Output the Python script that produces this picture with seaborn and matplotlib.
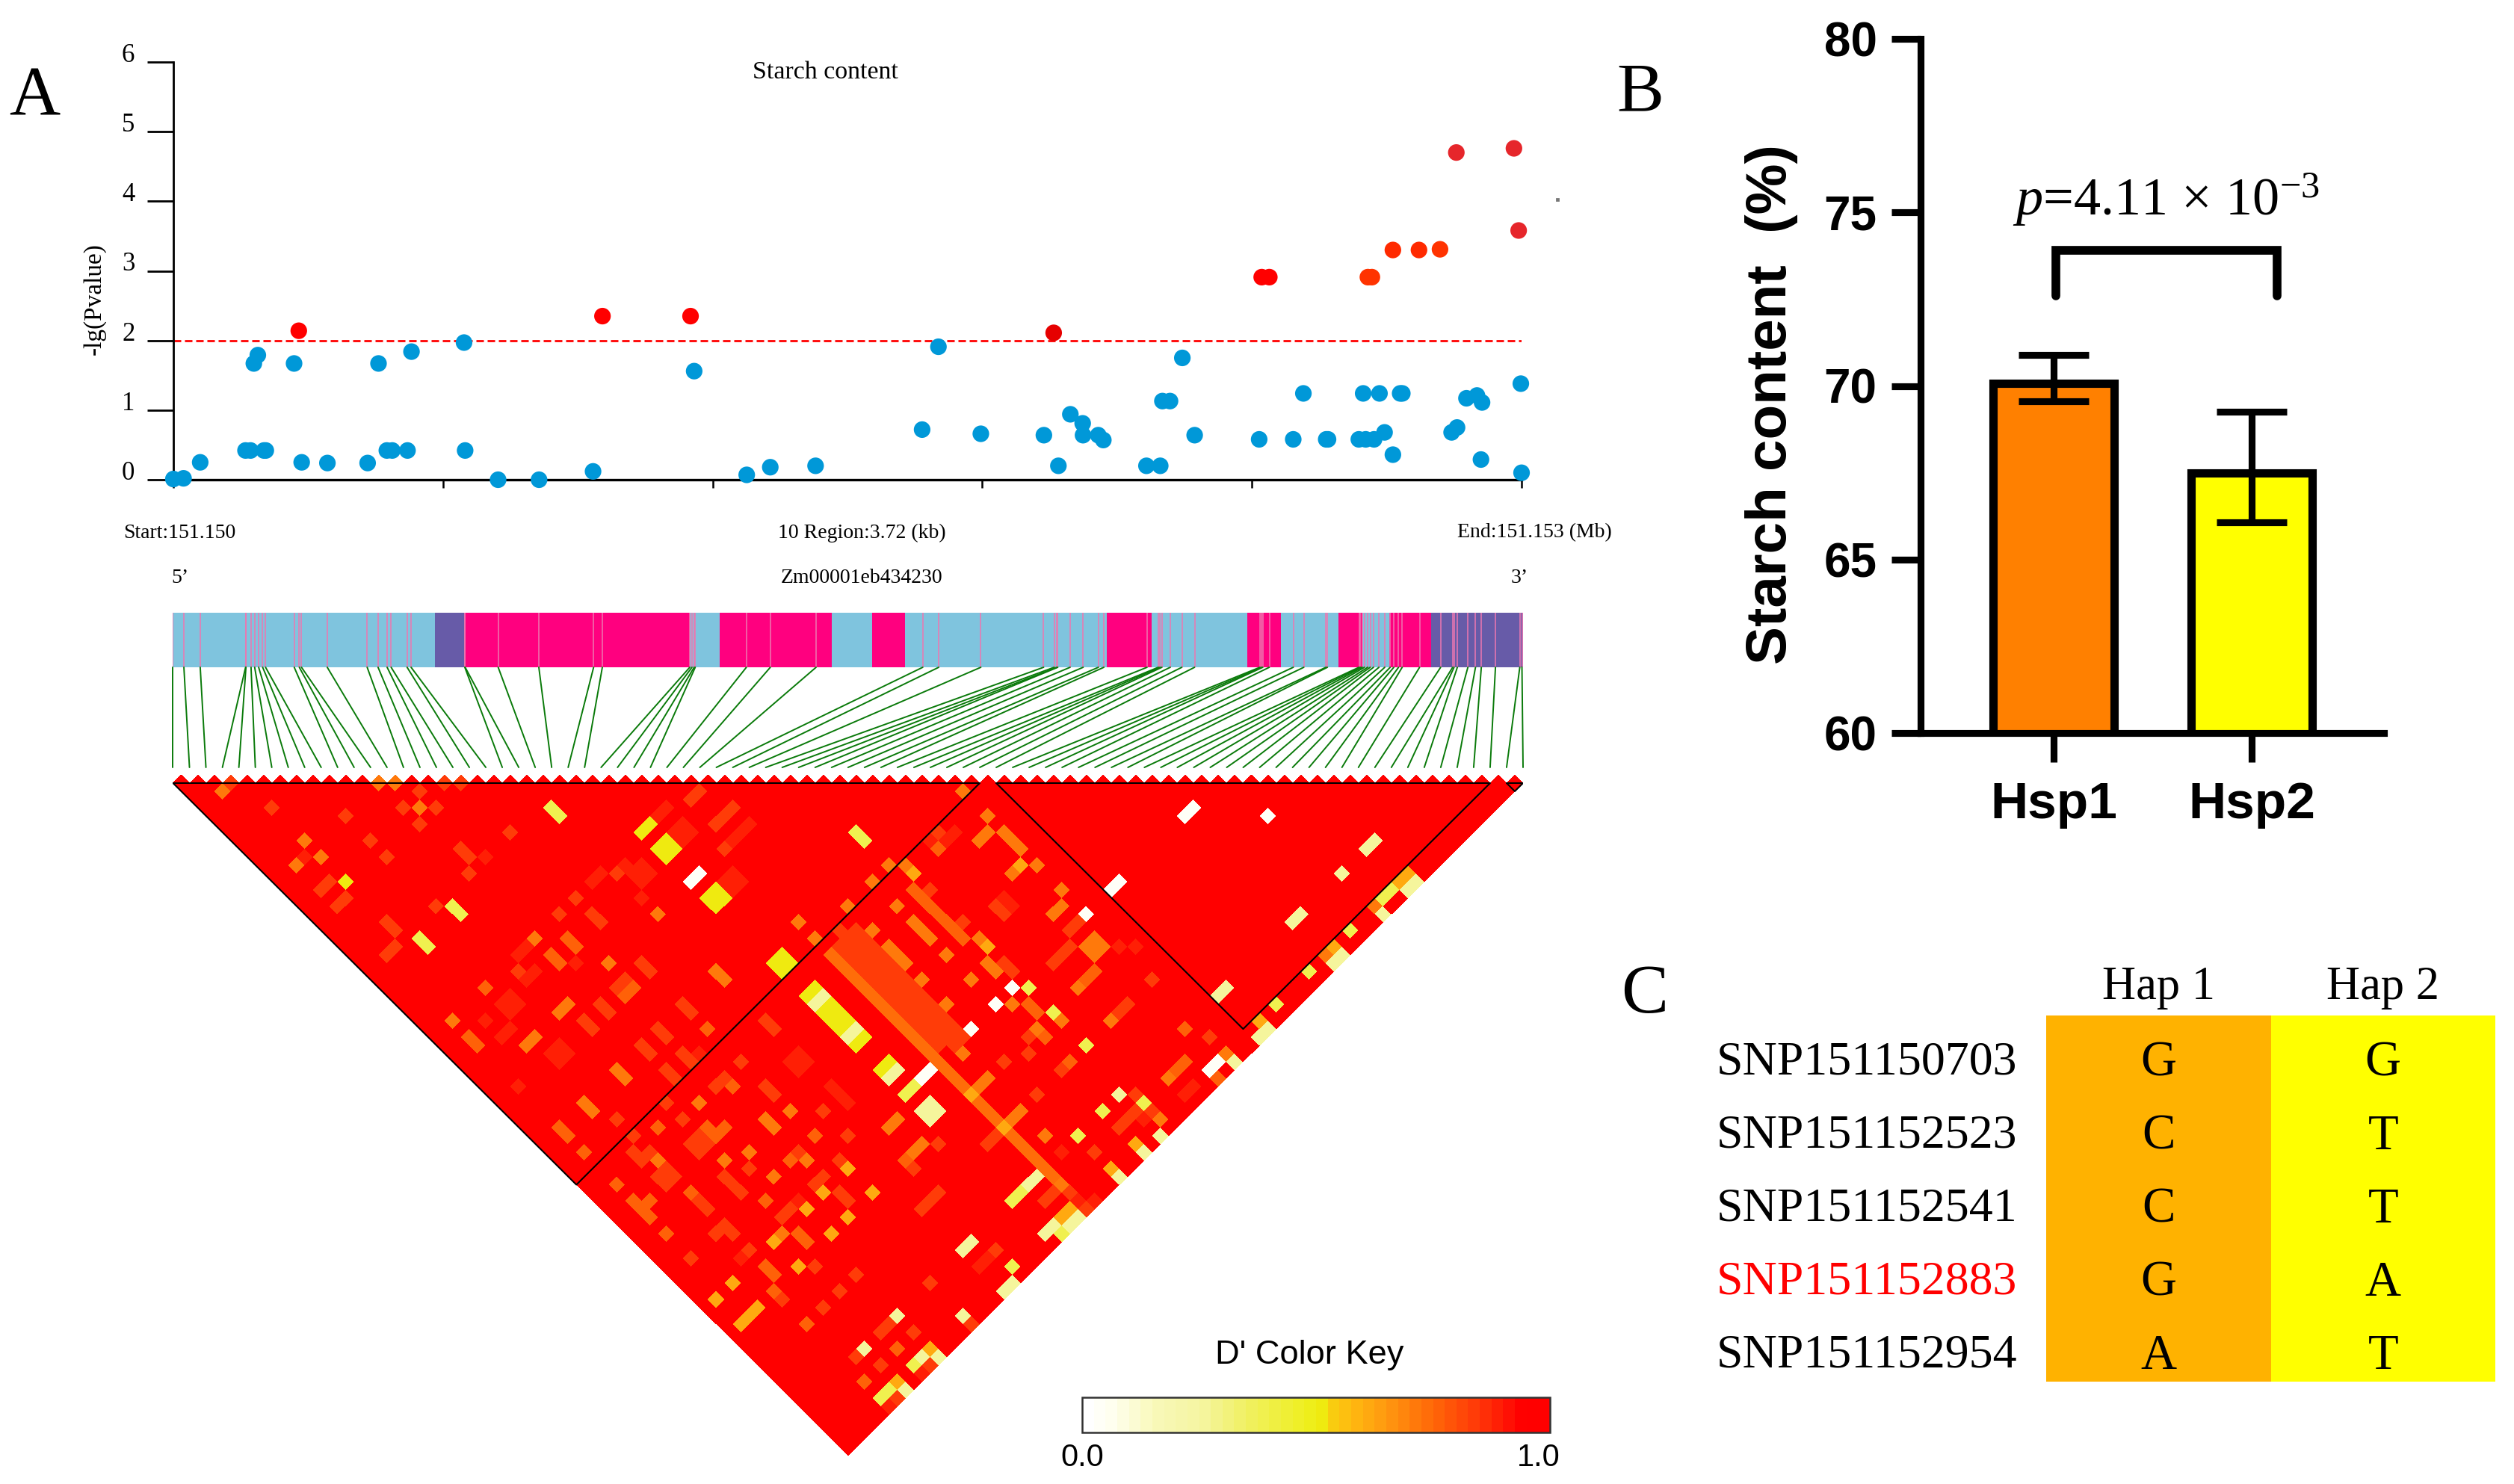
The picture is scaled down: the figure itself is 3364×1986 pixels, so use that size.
import matplotlib
matplotlib.use('Agg')
import matplotlib.pyplot as plt
import numpy as np
import pandas as pd
import seaborn as sns
from matplotlib.colors import LinearSegmentedColormap, ListedColormap
from matplotlib.transforms import Affine2D, ScaledTranslation

W, H = 3364, 1986
SERIF = ['Liberation Serif', 'DejaVu Sans']
SANS = ['Liberation Sans', 'DejaVu Sans']

# panel A, manhattan part: position in bp from 151.150 Mb, -lg(P)
blue_pos = [0, 28, 74, 199, 213, 250, 255, 222, 233, 333, 354, 425, 536, 566, 657, 589, 604, 646, 802, 805,
            896, 1009, 1158, 1437, 1582, 1647, 1772, 2066, 2111, 2228, 2402, 2442, 2475, 2509, 2510, 2552,
            2566, 2685, 2723, 2729, 2750, 2784, 2818, 2996, 3090, 3118, 3181, 3186, 3271, 3290, 3313, 3342,
            3283, 3328, 3365, 3385, 3391, 3527, 3542, 3568, 3597, 3611, 3608, 3718, 3720]
blue_logp = [0.01, 0.02, 0.25, 0.42, 0.42, 0.42, 0.42, 1.67, 1.79, 1.67, 0.25, 0.24, 0.24, 1.67, 1.84, 0.42,
             0.42, 0.42, 1.97, 0.42, 0.0, 0.0, 0.12, 1.56, 0.07, 0.18, 0.2, 0.72, 1.91, 0.66, 0.64, 0.2,
             0.94, 0.81, 0.64, 0.64, 0.57, 0.2, 0.2, 1.13, 1.13, 1.75, 0.64, 0.58, 0.58, 1.24, 0.58, 0.58,
             0.58, 0.58, 0.58, 0.68, 1.24, 1.24, 0.36, 1.24, 1.24, 0.68, 0.75, 1.17, 1.21, 1.11, 0.29, 1.38, 0.1]
red_pos = [346, 1184, 1427, 2429, 3003, 3024, 3296, 3307, 3365, 3437, 3495, 3540, 3699, 3712]
red_logp = [2.14, 2.35, 2.35, 2.11, 2.91, 2.91, 2.91, 2.91, 3.3, 3.3, 3.31, 4.7, 4.76, 3.58]
red_colors = ['#ff0000', '#ff0000', '#ff0000', '#e60000', '#ff0000', '#ff0000', '#ff3300', '#ff3300',
              '#ff2a00', '#ff2a00', '#ff3300', '#e6262b', '#e6262b', '#e6262b']

# gene model: segment starts/ends in bp and the feature colour
gene_start = [0, 721, 805, 1424, 1507, 1816, 1926, 2017, 2572, 2696, 2960, 3052, 3212, 3277, 3351, 3466]
gene_end = [721, 805, 1424, 1507, 1816, 1926, 2017, 2572, 2696, 2960, 3052, 3212, 3277, 3351, 3466, 3720]
gene_color = ['#7fc4de', '#675ba8', '#ff007f', '#7fc4de', '#ff007f', '#7fc4de', '#ff007f', '#7fc4de',
              '#ff007f', '#7fc4de', '#ff007f', '#7fc4de', '#ff007f', '#7fc4de', '#ff007f', '#675ba8']
snp_bp = [0, 30, 75, 200, 201, 215, 225, 236, 247, 255, 334, 348, 354, 425, 535, 565, 590, 601, 645, 656, 804,
          805, 896, 1008, 1159, 1183, 1424, 1430, 1436, 1439, 1580, 1646, 1772, 2066, 2110, 2226, 2399, 2428,
          2436, 2438, 2472, 2508, 2550, 2565, 2684, 2715, 2720, 2725, 2748, 2780, 2815, 2995, 3000, 3003, 3021,
          3087, 3116, 3177, 3181, 3268, 3272, 3277, 3283, 3292, 3299, 3308, 3323, 3339, 3354, 3364, 3377, 3387,
          3435, 3493, 3526, 3530, 3539, 3568, 3589, 3605, 3644, 3711, 3717]

# LD cells that are not full red. Each pair is (first + last snp index, last - first),
# later lists overwrite earlier ones
ld_095 = [(39, 23), (38, 24), (50, 24), (54, 8), (53, 9), (53, 13), (52, 14), (54, 14), (53, 15), (62, 16), (61, 17),
          (63, 17), (62, 18), (58, 18), (59, 19), (57, 19), (58, 20), (60, 20), (59, 21), (129, 7), (126, 10),
          (124, 12), (123, 13), (122, 14), (120, 16), (111, 17), (102, 60), (65, 7), (94, 2), (97, 52), (97, 51),
          (86, 62), (89, 61), (91, 57), (77, 73), (76, 72), (78, 72), (77, 71)]
ld_086 = [(80, 20), (81, 21), (82, 22), (83, 23), (84, 24), (85, 25), (86, 26), (87, 27), (88, 28), (89, 29), (90, 30),
          (91, 31), (92, 32), (80, 18), (81, 19), (82, 20), (83, 21), (84, 22), (85, 23), (86, 24), (87, 25), (88, 26),
          (89, 27), (90, 28), (91, 29), (92, 30), (93, 31), (94, 32), (82, 18), (83, 19), (84, 20), (85, 21), (86, 22),
          (87, 23), (88, 24), (89, 25), (90, 26), (91, 27), (92, 28), (93, 29), (94, 30), (95, 31)]
ld_089 = [(15, 9), (37, 9), (61, 5), (60, 6), (62, 6), (61, 7), (59, 3), (58, 4), (68, 6), (67, 7), (69, 5), (67, 11),
          (66, 12), (68, 12), (67, 13), (56, 14), (55, 11), (56, 10), (57, 11), (56, 12), (51, 11), (50, 12), (54, 10),
          (44, 23), (43, 24), (48, 22), (41, 21), (42, 20), (39, 27), (40, 26), (41, 27), (40, 28), (39, 31), (40, 30),
          (46, 32), (45, 33), (47, 33), (46, 34), (37, 29), (75, 33), (74, 34), (76, 34), (75, 35), (79, 37), (80, 38),
          (81, 39), (63, 33), (41, 37), (93, 7), (94, 6), (91, 7), (101, 14), (102, 15), (123, 37), (122, 38), (114, 20),
          (116, 20), (117, 41), (97, 59), (98, 58), (90, 72), (86, 76), (75, 51), (68, 58), (107, 45), (109, 51), (111, 51)]
ld_083 = [(6, 0), (29, 1), (32, 0), (34, 0), (11, 3), (20, 4), (27, 3), (31, 3), (29, 5), (40, 6), (23, 7), (25, 9),
          (34, 8), (35, 9), (35, 11), (63, 1), (62, 2), (18, 12), (17, 13), (20, 14), (19, 15), (31, 15), (25, 17),
          (26, 18), (26, 20), (25, 21), (48, 14), (53, 11), (66, 8), (65, 5), (66, 4), (67, 3), (50, 16), (51, 17),
          (46, 16), (56, 22), (57, 23), (41, 23), (53, 25), (54, 24), (71, 29), (72, 30), (58, 30), (59, 31), (61, 27),
          (62, 28), (51, 27), (52, 28), (49, 29), (50, 30), (56, 32), (57, 33), (61, 33), (62, 34), (59, 35), (60, 36),
          (68, 34), (65, 37), (66, 36), (71, 37), (72, 38), (104, 38), (111, 45), (100, 34), (103, 33), (107, 35),
          (109, 17), (108, 18), (108, 20), (107, 21), (106, 22), (100, 22), (101, 23), (95, 17), (92, 6), (91, 13),
          (100, 15), (101, 16), (103, 31), (115, 27), (114, 28), (125, 31), (116, 38), (118, 40), (116, 40), (115, 41),
          (114, 42), (118, 24), (62, 44), (63, 43), (64, 44), (63, 45), (59, 47), (58, 48), (60, 48), (59, 49), (81, 51),
          (80, 50), (80, 62), (78, 64), (96, 66), (92, 50), (91, 51), (85, 67), (86, 66), (89, 67), (91, 71), (85, 71),
          (87, 75), (82, 70), (62, 58), (67, 55), (73, 63), (99, 57), (91, 61), (82, 60), (77, 59), (92, 44), (89, 47),
          (55, 45), (56, 46), (57, 45), (63, 51), (64, 52), (66, 54), (65, 55), (68, 50), (67, 49), (66, 48), (78, 48),
          (77, 49), (80, 46), (73, 53), (74, 52), (69, 57), (98, 44), (99, 43), (105, 51), (106, 50), (108, 50), (110, 52),
          (90, 52), (53, 41), (55, 43), (57, 45), (59, 39), (61, 41), (78, 40), (81, 43), (75, 45), (72, 48), (69, 47)]
ld_074 = [(79, 21), (80, 22), (81, 23), (82, 24), (83, 25), (84, 26), (85, 27), (86, 28), (87, 29), (88, 30), (89, 31),
          (90, 32), (91, 33), (92, 34), (93, 35), (94, 36), (95, 37), (96, 38), (97, 39), (98, 40), (99, 41), (100, 42),
          (101, 43), (102, 44), (103, 45), (104, 46), (105, 47), (106, 48), (107, 49)]
ld_077 = [(47, 19), (48, 20), (45, 21), (46, 22), (37, 25), (55, 25), (54, 26), (67, 37), (35, 31), (36, 32), (46, 42),
          (47, 43), (49, 45), (64, 30), (53, 49), (89, 13), (90, 14), (91, 15), (92, 16), (93, 17), (94, 18), (95, 19),
          (92, 8), (110, 24), (111, 23), (65, 43), (64, 42), (66, 42), (74, 46), (71, 51), (57, 51), (56, 52), (55, 51),
          (57, 53), (59, 55), (72, 60), (71, 59), (72, 62), (76, 56), (76, 66), (87, 69), (83, 73), (88, 46), (104, 28),
          (103, 27), (105, 31), (108, 34), (122, 34), (121, 35), (126, 36), (122, 30), (58, 42), (77, 43), (75, 55), (62, 50)]
ld_070 = [(5, 1), (24, 0), (26, 0), (15, 7), (17, 9), (14, 10), (29, 3), (52, 22), (75, 17), (81, 15), (84, 12), (77, 19),
          (43, 19), (58, 16), (95, 1), (86, 10), (88, 10), (98, 4), (98, 6), (97, 7), (100, 6), (101, 7), (102, 8), (101, 11),
          (107, 13), (104, 10), (107, 15), (106, 16), (84, 18), (89, 17), (90, 18), (91, 19), (87, 15), (86, 20), (87, 21),
          (88, 22), (97, 19), (93, 21), (93, 27), (111, 19), (110, 20), (112, 20), (111, 21), (98, 22), (99, 23), (96, 24),
          (90, 24), (109, 25), (101, 27), (107, 29), (104, 30), (113, 29), (65, 23), (66, 24), (33, 29), (47, 27), (46, 28),
          (43, 31), (42, 32), (49, 39), (50, 40), (71, 41), (72, 42), (74, 40), (69, 45), (76, 46), (63, 39), (53, 35),
          (54, 36), (95, 33), (98, 36), (97, 37), (87, 41), (86, 42), (90, 44), (89, 45), (102, 40), (101, 41), (119, 41),
          (120, 36), (127, 33), (139, 21), (145, 15), (73, 55), (107, 49), (58, 46), (66, 46), (72, 48), (105, 43)]
ld_062 = [(81, 47), (78, 50), (76, 52), (84, 50), (81, 53), (79, 55), (72, 56), (75, 59), (67, 61), (65, 63), (70, 64),
          (69, 65), (68, 66), (108, 52), (107, 53), (113, 47), (96, 38), (100, 42), (98, 20), (131, 29), (149, 11),
          (148, 12), (140, 20), (102, 10), (116, 44), (91, 69), (87, 73), (89, 11)]
ld_052 = [(20, 12), (57, 5), (56, 6), (59, 7), (58, 8), (60, 8), (59, 9), (65, 13), (64, 14), (66, 14), (65, 15), (73, 21),
          (72, 22), (74, 22), (73, 23), (77, 25), (76, 26), (79, 27), (78, 28), (80, 28), (79, 29), (81, 29), (80, 30),
          (83, 31), (82, 32), (86, 34), (85, 35)]
ld_038 = [(45, 3), (46, 4), (33, 15), (34, 16), (29, 19), (30, 20), (82, 6), (83, 7), (147, 13), (146, 14), (142, 18),
          (137, 23), (133, 27), (103, 25), (106, 28), (110, 32), (117, 39), (112, 40), (109, 43), (89, 37), (88, 38),
          (102, 50), (101, 51), (101, 59), (107, 55), (89, 71), (86, 74), (85, 75)]
ld_025 = [(78, 26), (77, 27), (82, 30), (81, 31), (145, 7), (144, 8), (141, 11), (136, 16), (135, 17), (150, 12), (149, 13),
          (146, 16), (141, 21), (140, 22), (127, 25), (126, 26), (132, 30), (131, 31), (128, 34), (114, 38), (119, 43),
          (117, 45), (114, 48), (91, 39), (90, 40), (92, 40), (91, 41), (87, 35), (86, 36), (104, 48), (103, 49), (101, 61),
          (100, 62), (96, 56), (95, 57), (95, 65), (87, 65), (83, 69), (90, 70), (92, 70), (88, 74), (109, 53), (106, 54),
          (108, 54), (105, 55)]
ld_003 = [(123, 3), (122, 4), (132, 4), (114, 12), (113, 13), (63, 11), (62, 12), (101, 25), (99, 27), (96, 30), (91, 35),
          (90, 36), (126, 34), (125, 35), (110, 16)]
ld_levels = [(0.95, ld_095), (0.84, ld_086), (0.89, ld_089), (0.83, ld_083), (0.74, ld_074), (0.77, ld_077),
             (0.70, ld_070), (0.62, ld_062), (0.52, ld_052), (0.38, ld_038), (0.25, ld_025), (0.03, ld_003)]
# LD blocks as first and last snp
blocks = [(0, 49), (50, 80), (81, 82)]

# panel B
hap_names = ['Hsp1', 'Hsp2']
starch_mean = [70.08, 67.5]
starch_lower = [0.53, 1.43]
starch_upper = [0.82, 1.75]
bar_colors = ['#ff8000', '#ffff00']

# panel C
snp_names = ['SNP151150703', 'SNP151152523', 'SNP151152541', 'SNP151152883', 'SNP151152954']
hap1_alleles = ['G', 'C', 'C', 'G', 'A']
hap2_alleles = ['G', 'T', 'T', 'A', 'T']

sns.set_theme(style='white')
plt.rcParams['font.family'] = SERIF
plt.rcParams['mathtext.fontset'] = 'custom'
plt.rcParams['mathtext.rm'] = 'Liberation Serif'
plt.rcParams['mathtext.it'] = 'Liberation Serif:italic'
plt.rcParams['text.color'] = 'black'
plt.rcParams['axes.labelcolor'] = 'black'
plt.rcParams['xtick.color'] = 'black'
plt.rcParams['ytick.color'] = 'black'

fig = plt.figure(figsize=(W / 200, H / 200), dpi=200, facecolor='white')


def panel(left, top, right, bottom):
    return fig.add_axes([left / W, 1 - bottom / H, (right - left) / W, (bottom - top) / H])


def put(x, y, s, **kw):
    kw.setdefault('ha', 'center')
    kw.setdefault('va', 'center')
    return fig.text(x / W, 1 - y / H, s, **kw)


# A: association plot
ax = panel(232, 83, 2036, 642)
points = pd.DataFrame({'pos': blue_pos + red_pos, 'logp': blue_logp + red_logp,
                       'color': ['#0098d8'] * len(blue_pos) + red_colors})
sns.scatterplot(data=points, x='pos', y='logp', hue='color', palette={c: c for c in points['color'].unique()},
                s=64, linewidth=0, legend=False, clip_on=False, zorder=3, ax=ax)
ax.axhline(2, color='#ff0000', lw=1, ls=(0, (3.6, 1.8)), zorder=2)
ax.plot([3819], [4.03], marker='s', ms=0.9, color='#777777', clip_on=False)
ax.set_xlim(0, 3720)
ax.set_ylim(0, 6)
ax.set_xticks([0, 744, 1488, 2232, 2976, 3720], labels=[])
ax.set_yticks(range(7))
ax.tick_params(axis='y', length=12.6, width=1, pad=6, labelsize=12.5, left=True)
ax.tick_params(axis='x', length=4, width=0.9, bottom=True)
for label in ax.get_yticklabels():
    label.set_va('baseline')
sns.despine(ax=ax)
ax.spines['left'].set_linewidth(1)
ax.spines['bottom'].set_linewidth(1.2)
ax.spines['left'].set_color('black')
ax.spines['bottom'].set_color('black')
ax.set_xlabel('')
ax.set_ylabel('-lg(Pvalue)', fontsize=12, va='center')
ax.yaxis.set_label_coords(-0.0588, 0.432)

put(1104, 97, 'Starch content', fontsize=12.2)
put(240, 713, 'Start:151.150', fontsize=10)
put(1153, 713, '10 Region:3.72 (kb)', fontsize=10)
put(2053, 713, 'End:151.153 (Mb)', fontsize=10)
put(241, 773, '5’', fontsize=10)
put(1153, 773, 'Zm00001eb434230', fontsize=10)
put(2033, 773, '3’', fontsize=10)
put(12, 153, 'A', fontsize=34, ha='left', va='baseline')
put(2163, 148, 'B', fontsize=34, ha='left', va='baseline')
put(2169, 1355, 'C', fontsize=34, ha='left', va='baseline')

# gene model and the lines down to the LD triangle
ax = panel(231.5, 820, 2038, 1027)
ax.set_xlim(0, 3720)
ax.set_ylim(1, 0)
ax.axis('off')
bar_depth = 73 / 207
ax.barh([bar_depth / 2] * len(gene_start), np.subtract(gene_end, gene_start), left=gene_start,
        height=bar_depth, color=gene_color, linewidth=0)
ax.vlines(snp_bp, 0, bar_depth, color='#ee77b0', lw=0.55)
link_bottom = np.linspace(0, 3720, len(snp_bp))
for top_x, low_x in zip(snp_bp, link_bottom):
    ax.plot([top_x, low_x], [bar_depth, 1], color='#0a7a0a', lw=0.7, clip_on=False)

# LD triangle: a heatmap of the snp pairs, sheared by 45 degrees
n_pairs = 82
ld = np.ones((n_pairs, n_pairs))
for value, cells in ld_levels:
    for total, gap in cells:
        ld[(total - gap) // 2, (total + gap) // 2] = value
dprime_cmap = LinearSegmentedColormap.from_list('dprime', [
    (0.0, '#ffffff'), (0.05, '#fffff0'), (0.15, '#f8f8b8'), (0.25, '#f5f5a0'), (0.35, '#f0f060'),
    (0.51, '#eeee10'), (0.53, '#f8d010'), (0.58, '#ffb810'), (0.65, '#ff9a10'), (0.75, '#ff6a08'),
    (0.85, '#ff3a08'), (0.92, '#ff1204'), (0.95, '#ff0000'), (1.0, '#ff0000')], N=40)
ax = panel(231.5, 1037, 2038, 1947.5)
key_ax = panel(1448, 1870, 2074, 1917)
sns.heatmap(ld, mask=np.tril(np.ones_like(ld, dtype=bool), k=-1), cmap=dprime_cmap, vmin=0, vmax=1, ax=ax,
            xticklabels=False, yticklabels=False, cbar_ax=key_ax, cbar_kws={'orientation': 'horizontal'})
mesh = ax.collections[0]
mesh.set_transform(Affine2D.from_values(0.5, 0.5, 0.5, -0.5, 0, 0) + ax.transData)
ax.set_xlim(0, n_pairs)
ax.set_ylim(n_pairs / 2, -0.5)
ax.axis('off')
for first, last in blocks:
    ax.plot([first, last, (first + last) / 2, first], [0, 0, (last - first) / 2, 0], color='black', lw=0.75)

colorbar = mesh.colorbar
colorbar.set_ticks([0, 0.975], labels=['0.0', '1.0'])
key_ax.tick_params(length=0, pad=5, labelsize=15)
for label in key_ax.get_xticklabels():
    label.set_fontfamily(SANS)
colorbar.outline.set_edgecolor('#333333')
colorbar.outline.set_linewidth(0.9)
colorbar.outline.set_visible(True)
put(1752, 1814, "D' Color Key", fontsize=16.3, family=SANS)

# B: bars
ax = panel(2570, 52, 3190, 981)
sns.barplot(x=hap_names, y=starch_mean, hue=hap_names, palette=bar_colors, width=0.61, edgecolor='black',
            linewidth=4, saturation=1, legend=False, ax=ax)
ax.errorbar(hap_names, starch_mean, yerr=[starch_lower, starch_upper], fmt='none', ecolor='black', elinewidth=3.3,
            capsize=17, capthick=3.3, zorder=5)
ax.set_xlim(-0.672, 1.668)
ax.set_ylim(60, 80)
ax.set_yticks([60, 65, 70, 75, 80])
ax.tick_params(axis='both', length=14, width=3.3, bottom=True, left=True)
ax.tick_params(axis='y', labelsize=23, pad=7)
ax.tick_params(axis='x', labelsize=25, pad=9)
for label in ax.get_xticklabels() + ax.get_yticklabels():
    label.set_fontfamily(SANS)
    label.set_fontweight('bold')
sns.despine(ax=ax)
ax.spines['left'].set_linewidth(3.3)
ax.spines['bottom'].set_linewidth(3.3)
ax.spines['left'].set_color('black')
ax.spines['bottom'].set_color('black')
ax.set_ylabel('Starch content  (%)', fontsize=27.5, family=SANS, fontweight='bold', va='center')
ax.yaxis.set_label_coords(-0.322, 0.474)
ax.plot([0.01, 0.01, 1.13, 1.13], [72.6, 73.9, 73.9, 72.6], color='black', lw=4.2, solid_capstyle='round',
        solid_joinstyle='miter')
put(2899, 267, r'$\mathit{p}$=4.11 × 10$^{-3}$', fontsize=26)

# C: haplotype table
ax = panel(2738, 1359, 3339, 1849)
alleles = np.array([hap1_alleles, hap2_alleles]).T
codes = np.array([[0, 1]] * len(snp_names))
sns.heatmap(codes, annot=alleles, fmt='', cmap=ListedColormap(['#ffb200', '#ffff00']), cbar=False, ax=ax,
            annot_kws={'fontsize': 24, 'color': 'black', 'family': SERIF},
            xticklabels=['Hap 1', 'Hap 2'], yticklabels=snp_names)
ax.xaxis.tick_top()
ax.tick_params(axis='x', length=0, pad=3, labelsize=22.5, rotation=0)
ax.tick_params(axis='y', length=0, pad=14, labelsize=23, rotation=0)
ax.get_yticklabels()[3].set_color('#ff0000')
# the letters sit a little under the middle of each row
lower = ScaledTranslation(0, -15 / 200, fig.dpi_scale_trans)
for text in ax.texts:
    text.set_transform(text.get_transform() + lower)
for label in ax.get_yticklabels():
    label.set_transform(label.get_transform() + lower)

fig.savefig('out.png', dpi=200, facecolor='white')
